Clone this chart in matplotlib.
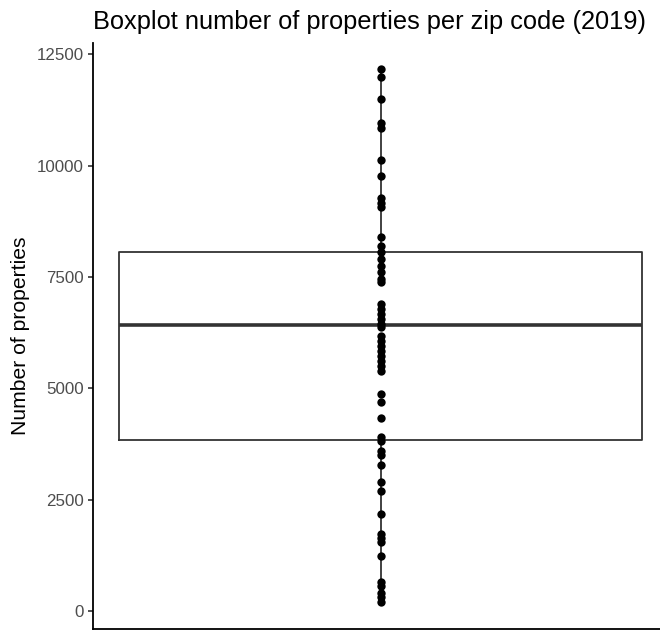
import numpy as np
import matplotlib
matplotlib.use("Agg")
import matplotlib.pyplot as plt

plt.rcParams['font.family'] = ['Liberation Sans', 'DejaVu Sans']

# number of properties per zip code
properties = [
    12163, 11977, 11490, 10951, 10832, 10128, 9769, 9262, 9156, 9060,
    8386, 8198, 8050, 7900, 7750, 7601, 7451, 7376,
    6890, 6777, 6665, 6553, 6441, 6366,
    6178, 6066, 5954, 5842, 5730, 5617, 5505, 5393,
    4870, 4683, 4331, 3898,
    3822, 3598, 3501, 3276, 2888, 2700, 2177, 1728, 1631, 1555, 1241,
    658, 568, 397, 307, 209,
]
q1_value = 3830
median_value = 6420
q3_value = 8070

yticks = [0, 2500, 5000, 7500, 10000, 12500]
title = "Boxplot number of properties per zip code (2019)"
ylabel = "Number of properties"

values = np.array(properties)

fig = plt.figure(figsize=(6.6, 6.3), dpi=100)
# panel runs a little past the right edge of the picture (like the cropped original)
ax = fig.add_axes([93 / 660, 1.5 / 630, (668 - 93) / 660, (629 - 43) / 630])

# single continuous-x box: centred on 0, width 0.9, 5% expansion each side
stats = [dict(med=median_value, q1=q1_value, q3=q3_value,
              whislo=values.min(), whishi=values.max(), fliers=[])]
ax.bxp(stats, positions=[0], widths=0.9, showfliers=False, showcaps=False,
       boxprops=dict(color="#333333", linewidth=1.3),
       whiskerprops=dict(color="#333333", linewidth=1.3),
       medianprops=dict(color="#333333", linewidth=2.6),
       zorder=1)

ax.plot(np.zeros(len(values)), values, "o", color="black", markersize=6,
        markeredgewidth=0, zorder=3)

span = values.max() - values.min()
ax.set_ylim(values.min() - 0.05 * span, values.max() + 0.05 * span)
ax.set_xlim(-0.495, 0.495)

ax.set_yticks(yticks)
ax.set_yticklabels([str(t) for t in yticks], color="#4d4d4d", fontsize=12.2)
ax.tick_params(axis="y", length=3.8, width=1.2, color="#333333", pad=3)
ax.set_xticks([])
ax.spines["top"].set_visible(False)
ax.spines["right"].set_visible(False)
ax.spines["left"].set_linewidth(1.3)
ax.spines["bottom"].set_linewidth(1.3)

fig.text(21 / 660, 1 - 336 / 630, ylabel, fontsize=15.2, rotation=90,
         ha="center", va="center")
fig.text(93 / 660, 1 - 28.5 / 630, title, fontsize=18.3, ha="left", va="baseline")

fig.savefig("out.png", dpi=100)
